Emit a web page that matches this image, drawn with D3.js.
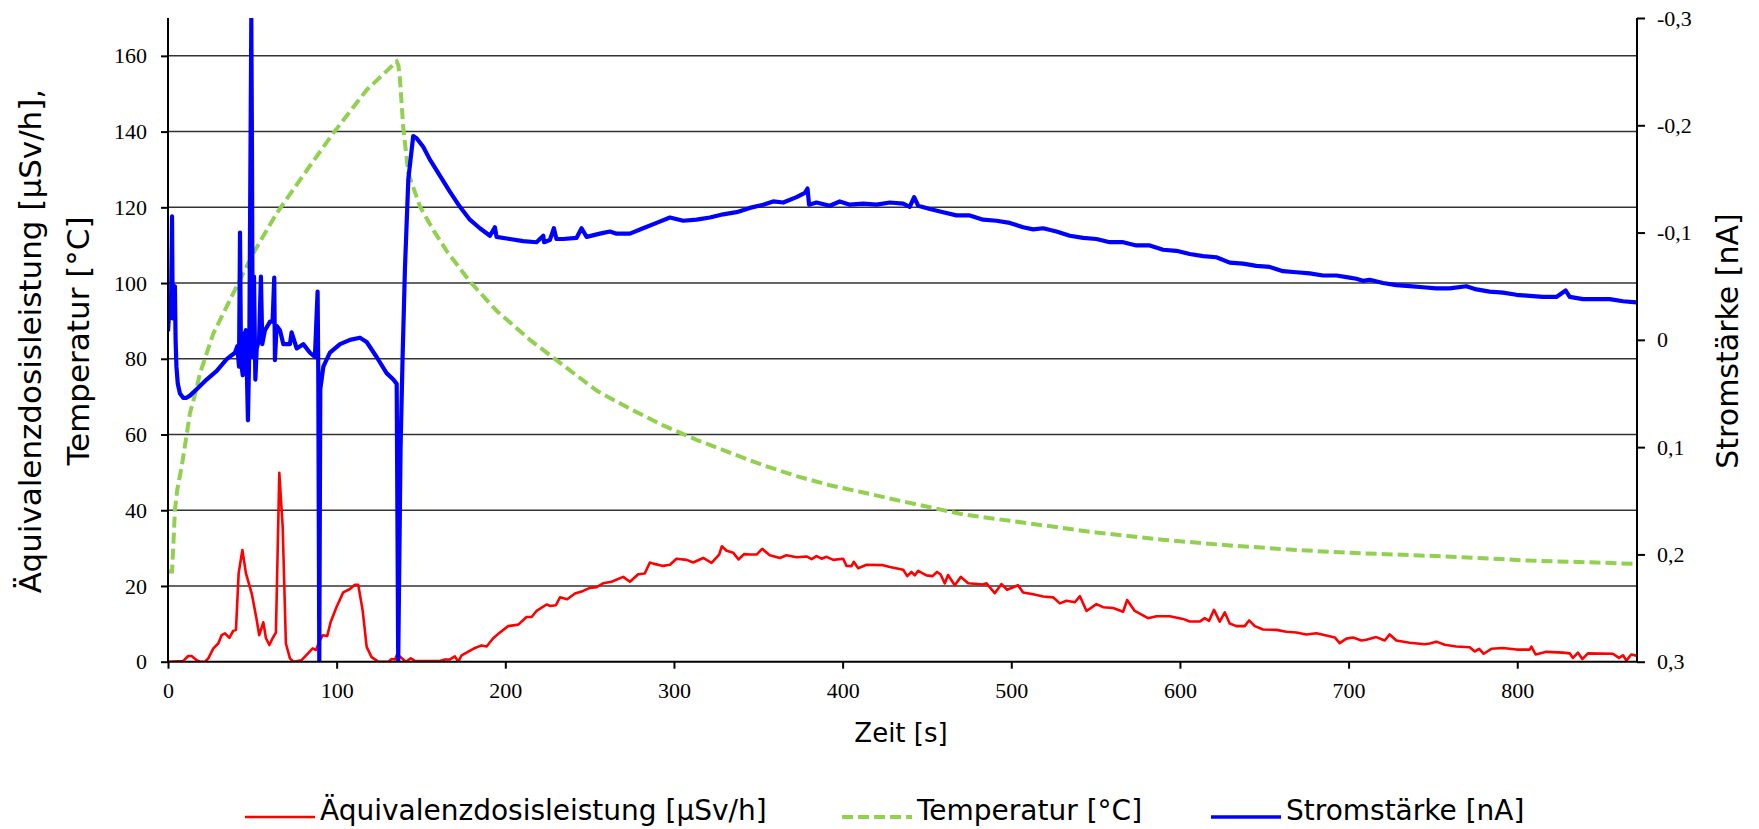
<!DOCTYPE html>
<html lang="de">
<head>
<meta charset="utf-8">
<title>Äquivalenzdosisleistung, Temperatur und Stromstärke</title>
<script src="https://d3js.org/d3.v7.min.js"></script>
<style>
  body { margin: 0; background: #fff; }
  .axis .tick text { font-family: "Liberation Serif", "Times New Roman", serif; font-size: 22px; fill: #000; }
  .axis path, .axis line { stroke: #000; stroke-width: 2; }
  .grid line { stroke: #333; stroke-width: 1.5; }
  .label { font-family: "DejaVu Sans", sans-serif; fill: #000; }
</style>
</head>
<body>
<script>
// [Zeit s, Äquivalenzdosisleistung µSv/h]
var doseData = [
  [0,0],[9.1,0.2],[12,1.5],[14,1.5],[17,0.4],[19,0],[21.9,0],[23.9,0.9],[26.9,3.5],[29.8,4.8],[31.8,7],[33.8,7.5],
  [36.4,6.3],[38.7,8.2],[40.3,8.4],[41.9,23.4],[44.1,29.5],[46.2,23.4],[49.8,17.7],[52.6,11],[54.1,7],[56.5,10.4],
  [58.1,6.2],[60.1,4.4],[62,6.2],[64,7.7],[66,49.9],[68,35.6],[69.9,4.8],[72.3,0.9],[74.3,0],[79.2,0.4],[82.2,1.8],
  [85.8,3.5],[87.7,3.1],[89.7,5.3],[91.7,7],[94.4,6.8],[96.4,10.4],[100,14.5],[103.9,18.3],[107.9,19.2],[110.8,20.3],
  [112.8,20.3],[115.4,13.6],[117.8,3.9],[120.7,1.2],[124.7,0],[130.6,0],[132.6,0.7],[134.6,0.6],[135.9,2],[139.5,0.6],
  [141.1,0],[143.9,0.9],[146.4,0.2],[161.2,0.2],[164.2,0.6],[167.2,0.6],[170.1,1.4],[172.1,0],[174.1,1.7],[181,3.4],
  [185.9,4.3],[188.9,4],[192.8,6.2],[196.8,7.7],[201.7,9.4],[207.7,9.8],[212.6,11.8],[215.6,11.8],[218.5,13.4],
  [224.5,15.1],[226.8,14.7],[230,14.9],[232.4,17],[236.7,16.5],[241.3,18],[246.2,18.7],[250.1,19.5],[254.1,19.7],
  [258,20.7],[263,21.1],[269.9,22.4],[273.9,21.1],[278.8,23.1],[282.7,23.3],[285.7,26.2],[287.7,25.9],[293.6,25.3],
  [297.6,25.6],[301.5,27.2],[307.5,26.9],[311.4,26.2],[317.3,27.4],[322.3,26.1],[326.8,28.3],[328.4,30.5],[331.2,29.3],
  [335.1,28.8],[338.3,27],[341.5,28.4],[345,28.3],[349,28.3],[352.3,29.8],[356.8,28.1],[362.8,27.4],[366.7,28.1],
  [372.7,27.6],[378.6,27.8],[381.6,27.1],[384.5,27.9],[387.5,27.2],[390.5,27.7],[394.4,26.9],[400.3,27.2],[402.3,25.3],
  [405.3,25.2],[406.6,26.4],[409.2,24.7],[414.2,25.6],[424,25.5],[428,25],[435.9,24.3],[438.3,22.6],[440.8,23.7],
  [442.8,22.8],[444.8,24],[449.7,22.8],[453.3,22.6],[456,23.7],[458,23.1],[460.6,20.7],[462.5,22.9],[466.5,20.2],
  [470.1,22.4],[474.4,20.7],[483.3,20.4],[485.3,20.7],[490.2,18.1],[494.2,20.5],[497.5,19],[504,20.2],[507,18.3],
  [513,17.8],[518.9,17.2],[524.8,17],[528.8,15.4],[532.7,16.1],[537.7,15.7],[540.7,17.3],[544.6,13.4],[550.5,15.2],
  [554.4,14.4],[560.4,14.2],[566.3,13.2],[568.7,16.3],[573.2,13.4],[581.1,11.5],[586.1,12],[594,12],[601.8,11.3],
  [605.8,10.6],[611.7,10.6],[614.7,11.5],[617.3,10.8],[620.2,13.7],[623.6,10.6],[626.6,13],[629.5,10.1],[633.5,9.4],
  [638.4,9.4],[641,10.9],[644.4,9.4],[649.3,8.5],[657.2,8.4],[663.1,7.9],[669,7.7],[675,7.2],[680.9,7.5],[686.8,6.9],
  [691.8,6.4],[694.7,4.9],[698.7,6.1],[702.6,6.4],[707.6,5.6],[710.5,5.8],[716.4,6.5],[721.4,5.6],[724.4,7.2],
  [728.3,5.6],[736.2,5],[745.1,4.6],[748.1,4.8],[752,5.3],[757,4.5],[763.9,4],[771.8,3.8],[774.8,2.7],[777.4,3.4],
  [780.1,2.1],[784.7,3.4],[791.5,3.6],[799.5,3.2],[807.3,3.2],[808.4,4],[810.9,1.9],[817.3,2.6],[827.1,2.4],
  [831.1,2.2],[833,1],[836,2.4],[838.6,0.7],[841.9,2.2],[856.7,2.1],[860.3,1],[862.7,1.7],[864.7,0.3],[867.6,1.9],
  [870.6,1.6]
];

// [Zeit s, Temperatur °C]
var tempData = [
  [0,23.8],[2.4,23.8],[3.2,31],[4.1,40],[5.5,45.5],[8.1,51.5],[11.1,60],[13,65.6],[16,70.5],[19,76.2],[26.9,86.7],
  [38.7,97.3],[50.6,107.9],[64.4,118.4],[78.2,127.2],[98,139.6],[117.8,151],[135.6,158.5],[136.6,157.5],[137.5,154],
  [139.5,141],[142.5,129],[149.4,120.2],[157.3,114],[165.2,108.5],[179,100.4],[194.8,92.7],[214.6,85],[234.3,78.3],
  [254.1,71.6],[273.9,66.8],[293.6,62.4],[313.4,58.6],[333.1,55.2],[352.9,51.9],[372.7,49],[392.4,46.6],[412.2,44.7],
  [431.9,42.7],[451.7,40.8],[471.4,38.9],[491.2,37.7],[511,36.5],[550.5,34.1],[590,32.2],[629.5,30.7],[669,29.5],
  [698.7,28.8],[728.3,28.3],[767.8,27.6],[807.3,26.7],[846.9,26.2],[870.6,25.8]
];

// [Zeit s, Stromstärke nA]
var currentData = [
  [0,-0.008],[0.5,-0.021],[1.2,-0.03],[1.8,-0.034],[2.4,-0.115],[2.8,-0.02],[3.6,-0.046],[4.1,-0.05],[4.5,0],
  [5,0.025],[5.8,0.041],[7.1,0.05],[9,0.054],[11,0.054],[13,0.052],[17,0.046],[22.9,0.037],[28.9,0.029],[34.8,0.018],
  [39.7,0.012],[41.1,0.006],[42.1,0.025],[42.7,-0.1],[43.3,0.02],[44.3,0.033],[45.3,-0.005],[46.2,-0.009],[47.4,0.075],
  [48.2,0.008],[49.4,-0.3],[49.8,-0.175],[50.2,0.016],[51,-0.059],[51.8,0.037],[52.6,0.008],[54,0],[55.1,-0.059],
  [55.9,0.004],[57.5,-0.009],[60.5,-0.017],[62,-0.017],[63,-0.058],[63.4,0.019],[64.4,-0.013],[66.4,-0.009],
  [68.4,0.004],[72.3,0.004],[73.3,-0.007],[76.3,0.008],[80.2,0.004],[84.2,0.012],[87.1,0.016],[88.7,-0.045],
  [89.1,0.029],[89.7,0.3],[90.3,0.046],[92.1,0.025],[96,0.012],[102,0.004],[107.9,0],[113.8,-0.002],[117.8,0.002],
  [123.7,0.016],[129.6,0.031],[133.6,0.037],[135.6,0.041],[136.5,0.3],[137.9,0.1],[139.1,0.016],[140.5,-0.067],
  [142.5,-0.15],[145.4,-0.19],[147.4,-0.188],[151.3,-0.18],[155.3,-0.168],[161.2,-0.153],[167.2,-0.138],
  [173.1,-0.124],[179,-0.112],[184.9,-0.104],[190.9,-0.097],[193.8,-0.105],[194.8,-0.096],[202.7,-0.094],
  [210.6,-0.092],[218.5,-0.091],[222.5,-0.097],[223,-0.091],[226.4,-0.093],[228.8,-0.104],[230.3,-0.094],
  [234.3,-0.094],[242.2,-0.095],[245.2,-0.104],[248.2,-0.096],[256.1,-0.099],[262,-0.101],[266,-0.099],
  [273.9,-0.099],[281.7,-0.104],[289.7,-0.109],[297.6,-0.114],[305.5,-0.111],[313.4,-0.112],[321.3,-0.114],
  [329.2,-0.117],[337.1,-0.119],[345,-0.123],[352.9,-0.126],[358.8,-0.129],[364.8,-0.128],[372.7,-0.133],
  [377.6,-0.137],[379.2,-0.141],[380.1,-0.126],[384.5,-0.128],[392.4,-0.125],[398.3,-0.129],[404.3,-0.126],
  [412.2,-0.127],[420.1,-0.126],[428,-0.128],[435.9,-0.127],[439.8,-0.124],[442.4,-0.133],[444.8,-0.125],
  [451.7,-0.122],[459.6,-0.119],[467.5,-0.116],[475.4,-0.116],[483.3,-0.112],[491.2,-0.111],[499.1,-0.109],
  [507,-0.105],[513,-0.103],[518.9,-0.104],[526.8,-0.101],[534.7,-0.097],[542.6,-0.095],[550.5,-0.094],
  [558.4,-0.091],[566.3,-0.091],[574.2,-0.088],[582.1,-0.088],[590,-0.084],[597.9,-0.083],[605.8,-0.08],
  [613.7,-0.078],[621.6,-0.077],[629.5,-0.072],[637.4,-0.071],[645.3,-0.069],[653.2,-0.068],[661.1,-0.064],
  [669,-0.063],[676.9,-0.062],[684.8,-0.06],[692.8,-0.06],[700.6,-0.058],[704.6,-0.057],[708.5,-0.055],
  [712.5,-0.056],[720.4,-0.053],[728.3,-0.051],[736.2,-0.05],[744.1,-0.049],[752,-0.048],[759.9,-0.048],
  [769.8,-0.05],[775.8,-0.047],[783.6,-0.045],[791.5,-0.044],[799.5,-0.042],[807.3,-0.041],[815.2,-0.04],
  [823.2,-0.04],[828.7,-0.046],[831.1,-0.04],[839,-0.038],[846.9,-0.038],[854.8,-0.038],[862.7,-0.036],[870.6,-0.035]
];

var timeTicks = [0, 100, 200, 300, 400, 500, 600, 700, 800];
var leftTicks = [0, 20, 40, 60, 80, 100, 120, 140, 160];
var rightTicks = [-0.3, -0.2, -0.1, 0, 0.1, 0.2, 0.3];
var seriesNames = ["Äquivalenzdosisleistung [µSv/h]", "Temperatur [°C]", "Stromstärke [nA]"];

var width = 1759, height = 829;
// plot area edges (note: "top" is reserved by window, so use own names)
var plotLeft = 168, plotRight = 1637, plotTop = 18, plotBottom = 661.7;

var svg = d3.select("body").append("svg")
    .attr("width", width)
    .attr("height", height);

var x = d3.scaleLinear().domain([0, 871]).range([plotLeft, plotRight]);
var yLeft = d3.scaleLinear().domain([0, 170]).range([plotBottom, plotTop]);
var yRight = d3.scaleLinear().domain([-0.3, 0.3]).range([plotTop, plotBottom]);

// gridlines
svg.append("g").attr("class", "grid")
  .selectAll("line")
  .data(leftTicks.filter(function(d) { return d > 0; }))
  .enter().append("line")
    .attr("x1", plotLeft).attr("x2", plotRight)
    .attr("y1", function(d) { return yLeft(d); })
    .attr("y2", function(d) { return yLeft(d); });

svg.append("clipPath").attr("id", "plot-clip")
  .append("rect")
    .attr("x", plotLeft).attr("y", plotTop)
    .attr("width", plotRight - plotLeft).attr("height", plotBottom - plotTop);

var plot = svg.append("g").attr("clip-path", "url(#plot-clip)");

var leftLine = d3.line()
    .x(function(d) { return x(d[0]); })
    .y(function(d) { return yLeft(d[1]); });
var rightLine = d3.line()
    .x(function(d) { return x(d[0]); })
    .y(function(d) { return yRight(d[1]); });

plot.append("path")
    .datum(doseData)
    .attr("d", leftLine)
    .attr("fill", "none")
    .attr("stroke", "#ff0000")
    .attr("stroke-width", 2.6)
    .attr("stroke-linejoin", "round");

plot.append("path")
    .datum(tempData)
    .attr("d", leftLine)
    .attr("fill", "none")
    .attr("stroke", "#92d050")
    .attr("stroke-width", 4)
    .attr("stroke-dasharray", "11,5");

// the measured current is noisy, so the trace reads as a thick band
plot.append("path")
    .datum(currentData)
    .attr("d", rightLine)
    .attr("fill", "none")
    .attr("stroke", "#0000ff")
    .attr("stroke-width", 4.2)
    .attr("stroke-linejoin", "round");

// axes
var fmtRight = function(d) {
  if (Math.abs(d) < 1e-9) return "0";
  return d.toFixed(1).replace(".", ",");
};

svg.append("g").attr("class", "axis")
    .attr("transform", "translate(" + plotLeft + ",0)")
    .call(d3.axisLeft(yLeft).tickValues(leftTicks).tickSize(7).tickSizeOuter(0).tickPadding(14))
    .select(".domain").attr("d", "M0," + plotTop + "V" + plotBottom);

svg.append("g").attr("class", "axis")
    .attr("transform", "translate(" + plotRight + ",0)")
    .call(d3.axisRight(yRight).tickValues(rightTicks).tickFormat(fmtRight).tickSize(8).tickSizeOuter(0).tickPadding(12))
    .select(".domain").attr("d", "M0," + plotTop + "V" + plotBottom);

svg.append("g").attr("class", "axis")
    .attr("transform", "translate(0," + plotBottom + ")")
    .call(d3.axisBottom(x).tickValues(timeTicks).tickSize(7).tickSizeOuter(0).tickPadding(14))
    .select(".domain").attr("d", "M" + plotLeft + ",0H" + plotRight);

// axis titles
svg.append("text").attr("class", "label")
    .attr("x", 901).attr("y", 742)
    .attr("text-anchor", "middle")
    .style("font-size", "26px")
    .text("Zeit [s]");

svg.append("text").attr("class", "label")
    .attr("transform", "translate(41,341) rotate(-90)")
    .attr("text-anchor", "middle")
    .style("font-size", "31px")
    .text("Äquivalenzdosisleistung [µSv/h],");
svg.append("text").attr("class", "label")
    .attr("transform", "translate(89,341) rotate(-90)")
    .attr("text-anchor", "middle")
    .style("font-size", "31px")
    .text("Temperatur [°C]");

svg.append("text").attr("class", "label")
    .attr("transform", "translate(1738,341) rotate(-90)")
    .attr("text-anchor", "middle")
    .style("font-size", "30px")
    .text("Stromstärke [nA]");

// legend
var legendColors = ["#ff0000", "#92d050", "#0000ff"];
var legendDash = [null, "11,5", null];
var legendWidths = [2.6, 4, 3.4];
var legendX = [245, 842, 1211];

var legend = svg.append("g");
seriesNames.forEach(function(name, i) {
  legend.append("line")
      .attr("x1", legendX[i]).attr("x2", legendX[i] + 70)
      .attr("y1", 817).attr("y2", 817)
      .attr("stroke", legendColors[i])
      .attr("stroke-width", legendWidths[i])
      .attr("stroke-dasharray", legendDash[i]);
  legend.append("text").attr("class", "label")
      .attr("x", legendX[i] + 75).attr("y", 820)
      .style("font-size", "28px")
      .text(name);
});
</script>
</body>
</html>
